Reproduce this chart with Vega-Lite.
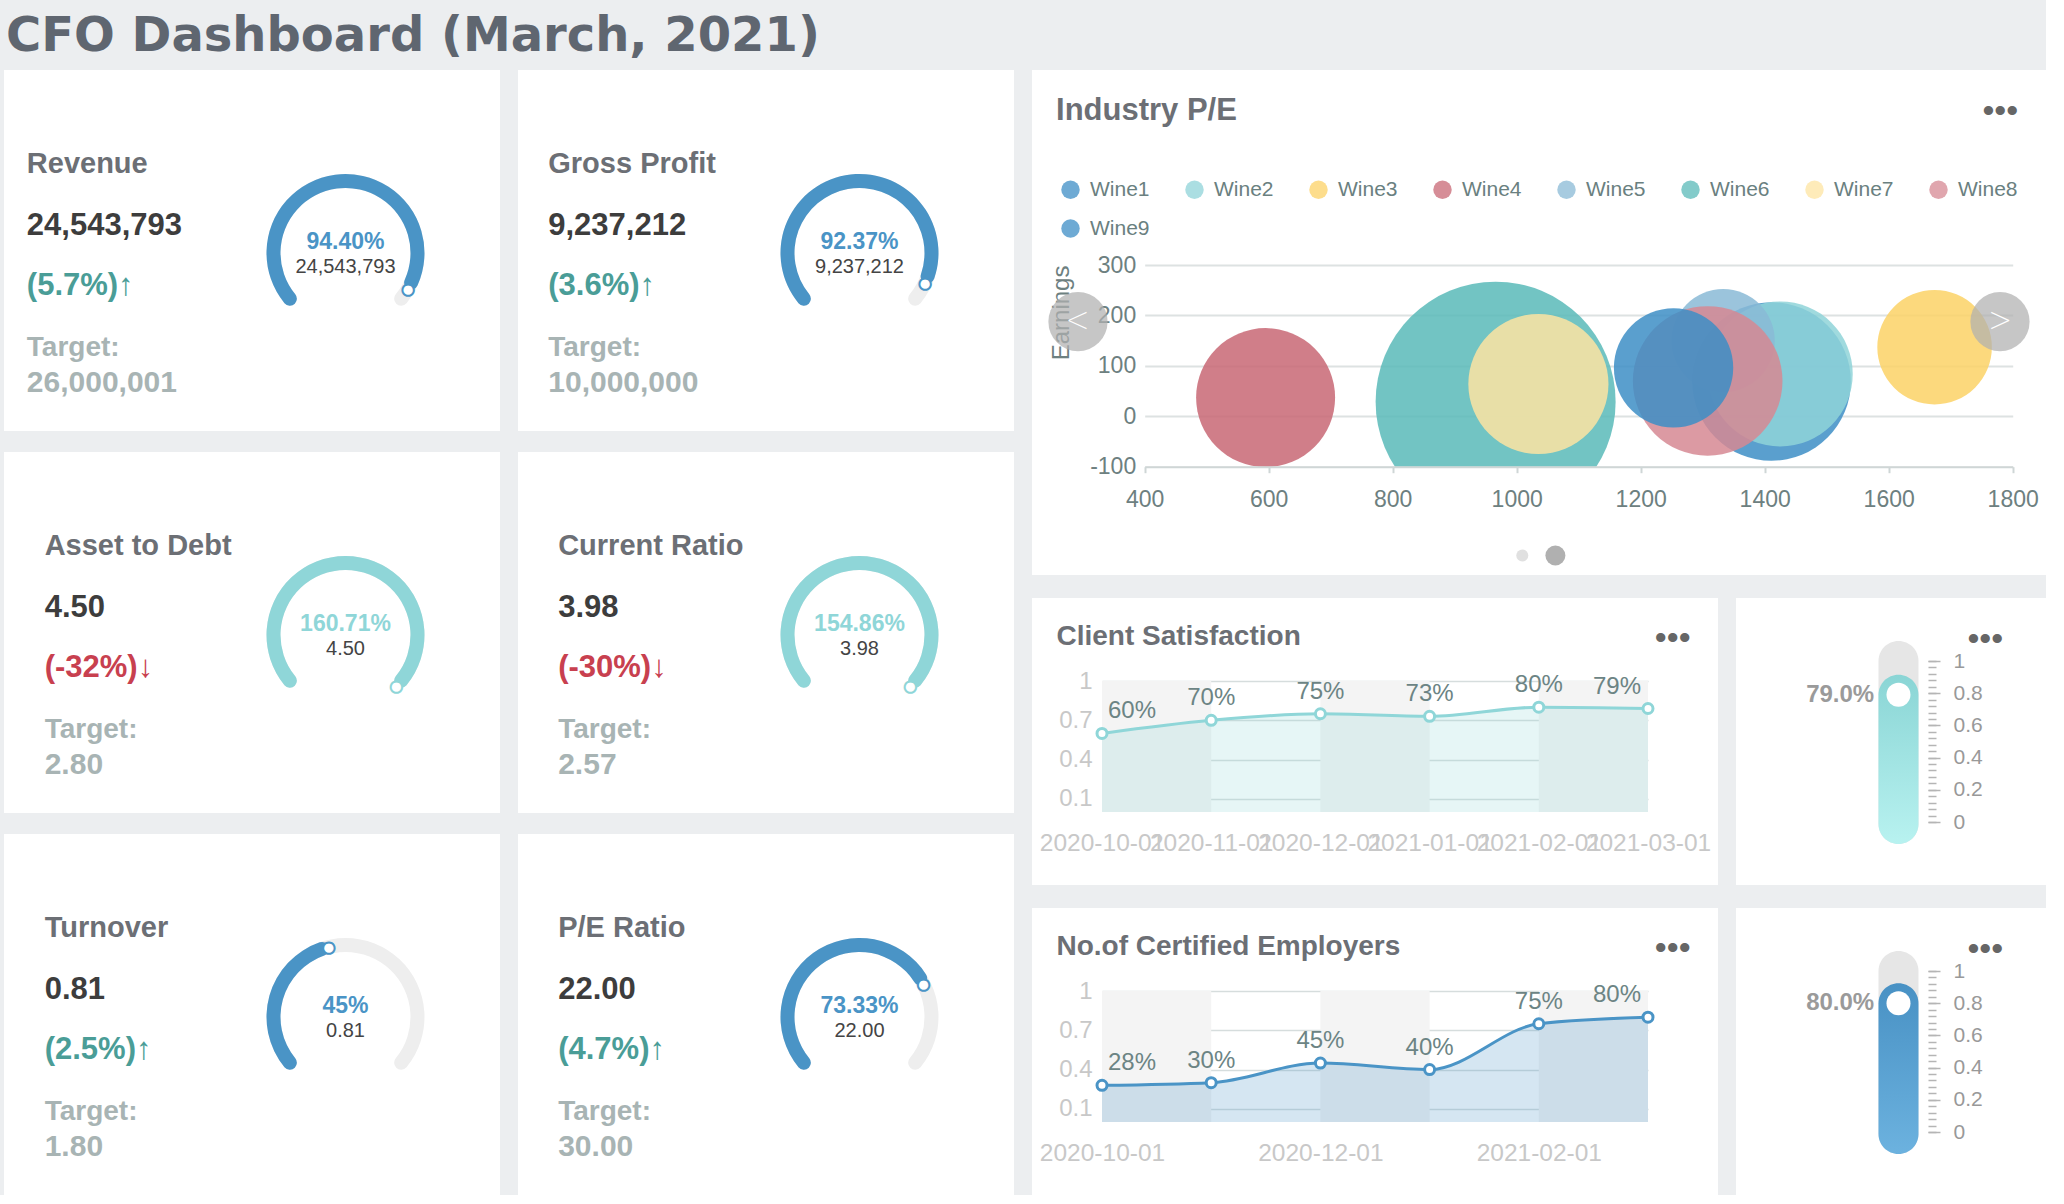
{
  "$schema": "https://vega.github.io/schema/vega-lite/v6.json",
  "background": "#eceef0",
  "padding": {"left": 4, "top": 12, "right": 0, "bottom": 0},
  "title": {"text": "CFO Dashboard (March, 2021)", "anchor": "start", "frame": "group", "font": "DejaVu Sans", "fontSize": 48, "fontWeight": "bold", "color": "#5f6670", "offset": 9.5, "dx": 2},
  "config": {"font": "Liberation Sans", "view": {"fill": "white", "stroke": null}},
  "datasets": {
    "kpi": [
      {"name": "Revenue", "value": "24,543,793", "change": "(5.7%)↑", "target": "26,000,001", "pct": 0.944, "pctText": "94.40%"},
      {"name": "Gross Profit", "value": "9,237,212", "change": "(3.6%)↑", "target": "10,000,000", "pct": 0.9237, "pctText": "92.37%"},
      {"name": "Asset to Debt", "value": "4.50", "change": "(-32%)↓", "target": "2.80", "pct": 1.6071, "pctText": "160.71%"},
      {"name": "Current Ratio", "value": "3.98", "change": "(-30%)↓", "target": "2.57", "pct": 1.5486, "pctText": "154.86%"},
      {"name": "Turnover", "value": "0.81", "change": "(2.5%)↑", "target": "1.80", "pct": 0.45, "pctText": "45%"},
      {"name": "P/E Ratio", "value": "22.00", "change": "(4.7%)↑", "target": "30.00", "pct": 0.7333, "pctText": "73.33%"}
    ],
    "wines": [
      {"wine": "Wine1", "pe": 1411, "earnings": 69, "vol": 629},
      {"wine": "Wine2", "pe": 1425, "earnings": 84, "vol": 526},
      {"wine": "Wine3", "pe": 1674, "earnings": 137, "vol": 328},
      {"wine": "Wine4", "pe": 595, "earnings": 37, "vol": 483},
      {"wine": "Wine5", "pe": 1333, "earnings": 150, "vol": 266},
      {"wine": "Wine6", "pe": 966, "earnings": 29, "vol": 1440},
      {"wine": "Wine7", "pe": 1035, "earnings": 64, "vol": 491},
      {"wine": "Wine8", "pe": 1308, "earnings": 70, "vol": 560},
      {"wine": "Wine9", "pe": 1253, "earnings": 96, "vol": 356}
    ],
    "sat": [
      {"date": "2020-10-01", "next": "2020-11-01", "v": 0.60},
      {"date": "2020-11-01", "next": "2020-12-01", "v": 0.70},
      {"date": "2020-12-01", "next": "2021-01-01", "v": 0.75},
      {"date": "2021-01-01", "next": "2021-02-01", "v": 0.73},
      {"date": "2021-02-01", "next": "2021-03-01", "v": 0.80},
      {"date": "2021-03-01", "next": null, "v": 0.79}
    ],
    "cert": [
      {"date": "2020-10-01", "next": "2020-11-01", "v": 0.28},
      {"date": "2020-11-01", "next": "2020-12-01", "v": 0.30},
      {"date": "2020-12-01", "next": "2021-01-01", "v": 0.45},
      {"date": "2021-01-01", "next": "2021-02-01", "v": 0.40},
      {"date": "2021-02-01", "next": "2021-03-01", "v": 0.75},
      {"date": "2021-03-01", "next": null, "v": 0.80}
    ]
  },
  "spacing": 18,
  "hconcat": [
    {
      "data": {"name": "kpi"},
      "spacing": 21,
      "vconcat": [
        {"spacing": 18, "hconcat": [
          {"width": 496, "height": 361, "transform": [{"filter": {"field": "name", "equal": "Revenue"}}], "layer": [
            {"mark": {"type": "arc", "outerRadius": 79, "innerRadius": 65, "cornerRadius": 7, "color": "#eeeeee"}, "encoding": {"x": {"datum": 68.85, "type": "quantitative", "scale": {"domain": [0, 100]}, "axis": null}, "y": {"datum": 50.69, "type": "quantitative", "scale": {"domain": [0, 100], "reverse": true}, "axis": null}, "theta": {"datum": 0, "type": "quantitative", "scale": {"domain": [0, 1], "range": [-2.356, 2.356], "clamp": true}}, "theta2": {"datum": 1}}},
            {"mark": {"type": "arc", "outerRadius": 79, "innerRadius": 65, "cornerRadius": 7}, "encoding": {"x": {"datum": 68.85, "type": "quantitative"}, "y": {"datum": 50.69, "type": "quantitative"}, "theta": {"field": "pct", "type": "quantitative", "stack": null}, "theta2": {"datum": 0}, "color": {"condition": {"test": "datum.pct > 1", "value": "#8fd6d8"}, "value": "#4a94c6"}}},
            {"mark": {"type": "text", "text": "●", "radius": 72, "fontSize": 15, "font": "DejaVu Sans", "align": "center", "baseline": "middle", "fill": "white", "strokeWidth": 2}, "encoding": {"x": {"datum": 68.85, "type": "quantitative"}, "y": {"datum": 50.69, "type": "quantitative"}, "theta": {"field": "pct", "type": "quantitative", "stack": null}, "stroke": {"condition": {"test": "datum.pct > 1", "value": "#8fd6d8"}, "value": "#4a94c6"}}},
            {"mark": {"type": "text", "align": "center", "baseline": "alphabetic", "fontSize": 23, "fontWeight": "bold"}, "encoding": {"x": {"datum": 68.85, "type": "quantitative"}, "y": {"datum": 49.6, "type": "quantitative"}, "text": {"field": "pctText"}, "color": {"condition": {"test": "datum.pct > 1", "value": "#8fd6d8"}, "value": "#4a94c6"}}},
            {"mark": {"type": "text", "align": "center", "baseline": "alphabetic", "fontSize": 20, "color": "#444444"}, "encoding": {"x": {"datum": 68.85, "type": "quantitative"}, "y": {"datum": 56.2, "type": "quantitative"}, "text": {"field": "value"}}},
            {"mark": {"type": "text", "align": "left", "baseline": "alphabetic", "fontSize": 29, "fontWeight": "bold", "color": "#6c6f75"}, "encoding": {"x": {"datum": 4.6, "type": "quantitative"}, "y": {"datum": 28.53, "type": "quantitative"}, "text": {"field": "name"}}},
            {"mark": {"type": "text", "align": "left", "baseline": "alphabetic", "fontSize": 31, "fontWeight": "bold", "color": "#3d3d3d"}, "encoding": {"x": {"datum": 4.6, "type": "quantitative"}, "y": {"datum": 45.7, "type": "quantitative"}, "text": {"field": "value"}}},
            {"mark": {"type": "text", "align": "left", "baseline": "alphabetic", "fontSize": 31, "fontWeight": "bold"}, "encoding": {"x": {"datum": 4.6, "type": "quantitative"}, "y": {"datum": 62.3, "type": "quantitative"}, "text": {"field": "change"}, "color": {"condition": {"test": "indexof(datum.change, '-') >= 0", "value": "#c8404f"}, "value": "#4a9d97"}}},
            {"mark": {"type": "text", "text": "Target:", "align": "left", "baseline": "alphabetic", "fontSize": 28, "fontWeight": "bold", "color": "#a8b4b4"}, "encoding": {"x": {"datum": 4.6, "type": "quantitative"}, "y": {"datum": 79.2, "type": "quantitative"}}},
            {"mark": {"type": "text", "align": "left", "baseline": "alphabetic", "fontSize": 30, "fontWeight": "bold", "color": "#a8b4b4"}, "encoding": {"x": {"datum": 4.6, "type": "quantitative"}, "y": {"datum": 89.2, "type": "quantitative"}, "text": {"field": "target"}}}
          ]},
          {"width": 496, "height": 361, "transform": [{"filter": {"field": "name", "equal": "Gross Profit"}}], "layer": [
            {"mark": {"type": "arc", "outerRadius": 79, "innerRadius": 65, "cornerRadius": 7, "color": "#eeeeee"}, "encoding": {"x": {"datum": 68.85, "type": "quantitative", "scale": {"domain": [0, 100]}, "axis": null}, "y": {"datum": 50.69, "type": "quantitative", "scale": {"domain": [0, 100], "reverse": true}, "axis": null}, "theta": {"datum": 0, "type": "quantitative", "scale": {"domain": [0, 1], "range": [-2.356, 2.356], "clamp": true}}, "theta2": {"datum": 1}}},
            {"mark": {"type": "arc", "outerRadius": 79, "innerRadius": 65, "cornerRadius": 7}, "encoding": {"x": {"datum": 68.85, "type": "quantitative"}, "y": {"datum": 50.69, "type": "quantitative"}, "theta": {"field": "pct", "type": "quantitative", "stack": null}, "theta2": {"datum": 0}, "color": {"condition": {"test": "datum.pct > 1", "value": "#8fd6d8"}, "value": "#4a94c6"}}},
            {"mark": {"type": "text", "text": "●", "radius": 72, "fontSize": 15, "font": "DejaVu Sans", "align": "center", "baseline": "middle", "fill": "white", "strokeWidth": 2}, "encoding": {"x": {"datum": 68.85, "type": "quantitative"}, "y": {"datum": 50.69, "type": "quantitative"}, "theta": {"field": "pct", "type": "quantitative", "stack": null}, "stroke": {"condition": {"test": "datum.pct > 1", "value": "#8fd6d8"}, "value": "#4a94c6"}}},
            {"mark": {"type": "text", "align": "center", "baseline": "alphabetic", "fontSize": 23, "fontWeight": "bold"}, "encoding": {"x": {"datum": 68.85, "type": "quantitative"}, "y": {"datum": 49.6, "type": "quantitative"}, "text": {"field": "pctText"}, "color": {"condition": {"test": "datum.pct > 1", "value": "#8fd6d8"}, "value": "#4a94c6"}}},
            {"mark": {"type": "text", "align": "center", "baseline": "alphabetic", "fontSize": 20, "color": "#444444"}, "encoding": {"x": {"datum": 68.85, "type": "quantitative"}, "y": {"datum": 56.2, "type": "quantitative"}, "text": {"field": "value"}}},
            {"mark": {"type": "text", "align": "left", "baseline": "alphabetic", "fontSize": 29, "fontWeight": "bold", "color": "#6c6f75"}, "encoding": {"x": {"datum": 6.1, "type": "quantitative"}, "y": {"datum": 28.53, "type": "quantitative"}, "text": {"field": "name"}}},
            {"mark": {"type": "text", "align": "left", "baseline": "alphabetic", "fontSize": 31, "fontWeight": "bold", "color": "#3d3d3d"}, "encoding": {"x": {"datum": 6.1, "type": "quantitative"}, "y": {"datum": 45.7, "type": "quantitative"}, "text": {"field": "value"}}},
            {"mark": {"type": "text", "align": "left", "baseline": "alphabetic", "fontSize": 31, "fontWeight": "bold"}, "encoding": {"x": {"datum": 6.1, "type": "quantitative"}, "y": {"datum": 62.3, "type": "quantitative"}, "text": {"field": "change"}, "color": {"condition": {"test": "indexof(datum.change, '-') >= 0", "value": "#c8404f"}, "value": "#4a9d97"}}},
            {"mark": {"type": "text", "text": "Target:", "align": "left", "baseline": "alphabetic", "fontSize": 28, "fontWeight": "bold", "color": "#a8b4b4"}, "encoding": {"x": {"datum": 6.1, "type": "quantitative"}, "y": {"datum": 79.2, "type": "quantitative"}}},
            {"mark": {"type": "text", "align": "left", "baseline": "alphabetic", "fontSize": 30, "fontWeight": "bold", "color": "#a8b4b4"}, "encoding": {"x": {"datum": 6.1, "type": "quantitative"}, "y": {"datum": 89.2, "type": "quantitative"}, "text": {"field": "target"}}}
          ]}
        ]},
        {"spacing": 18, "hconcat": [
          {"width": 496, "height": 361, "transform": [{"filter": {"field": "name", "equal": "Asset to Debt"}}], "layer": [
            {"mark": {"type": "arc", "outerRadius": 79, "innerRadius": 65, "cornerRadius": 7, "color": "#eeeeee"}, "encoding": {"x": {"datum": 68.85, "type": "quantitative", "scale": {"domain": [0, 100]}, "axis": null}, "y": {"datum": 50.69, "type": "quantitative", "scale": {"domain": [0, 100], "reverse": true}, "axis": null}, "theta": {"datum": 0, "type": "quantitative", "scale": {"domain": [0, 1], "range": [-2.356, 2.356], "clamp": true}}, "theta2": {"datum": 1}}},
            {"mark": {"type": "arc", "outerRadius": 79, "innerRadius": 65, "cornerRadius": 7}, "encoding": {"x": {"datum": 68.85, "type": "quantitative"}, "y": {"datum": 50.69, "type": "quantitative"}, "theta": {"field": "pct", "type": "quantitative", "stack": null}, "theta2": {"datum": 0}, "color": {"condition": {"test": "datum.pct > 1", "value": "#8fd6d8"}, "value": "#4a94c6"}}},
            {"mark": {"type": "text", "text": "●", "radius": 72, "fontSize": 15, "font": "DejaVu Sans", "align": "center", "baseline": "middle", "fill": "white", "strokeWidth": 2}, "encoding": {"x": {"datum": 68.85, "type": "quantitative"}, "y": {"datum": 50.69, "type": "quantitative"}, "theta": {"field": "pct", "type": "quantitative", "stack": null}, "stroke": {"condition": {"test": "datum.pct > 1", "value": "#8fd6d8"}, "value": "#4a94c6"}}},
            {"mark": {"type": "text", "align": "center", "baseline": "alphabetic", "fontSize": 23, "fontWeight": "bold"}, "encoding": {"x": {"datum": 68.85, "type": "quantitative"}, "y": {"datum": 49.6, "type": "quantitative"}, "text": {"field": "pctText"}, "color": {"condition": {"test": "datum.pct > 1", "value": "#8fd6d8"}, "value": "#4a94c6"}}},
            {"mark": {"type": "text", "align": "center", "baseline": "alphabetic", "fontSize": 20, "color": "#444444"}, "encoding": {"x": {"datum": 68.85, "type": "quantitative"}, "y": {"datum": 56.2, "type": "quantitative"}, "text": {"field": "value"}}},
            {"mark": {"type": "text", "align": "left", "baseline": "alphabetic", "fontSize": 29, "fontWeight": "bold", "color": "#6c6f75"}, "encoding": {"x": {"datum": 8.2, "type": "quantitative"}, "y": {"datum": 28.53, "type": "quantitative"}, "text": {"field": "name"}}},
            {"mark": {"type": "text", "align": "left", "baseline": "alphabetic", "fontSize": 31, "fontWeight": "bold", "color": "#3d3d3d"}, "encoding": {"x": {"datum": 8.2, "type": "quantitative"}, "y": {"datum": 45.7, "type": "quantitative"}, "text": {"field": "value"}}},
            {"mark": {"type": "text", "align": "left", "baseline": "alphabetic", "fontSize": 31, "fontWeight": "bold"}, "encoding": {"x": {"datum": 8.2, "type": "quantitative"}, "y": {"datum": 62.3, "type": "quantitative"}, "text": {"field": "change"}, "color": {"condition": {"test": "indexof(datum.change, '-') >= 0", "value": "#c8404f"}, "value": "#4a9d97"}}},
            {"mark": {"type": "text", "text": "Target:", "align": "left", "baseline": "alphabetic", "fontSize": 28, "fontWeight": "bold", "color": "#a8b4b4"}, "encoding": {"x": {"datum": 8.2, "type": "quantitative"}, "y": {"datum": 79.2, "type": "quantitative"}}},
            {"mark": {"type": "text", "align": "left", "baseline": "alphabetic", "fontSize": 30, "fontWeight": "bold", "color": "#a8b4b4"}, "encoding": {"x": {"datum": 8.2, "type": "quantitative"}, "y": {"datum": 89.2, "type": "quantitative"}, "text": {"field": "target"}}}
          ]},
          {"width": 496, "height": 361, "transform": [{"filter": {"field": "name", "equal": "Current Ratio"}}], "layer": [
            {"mark": {"type": "arc", "outerRadius": 79, "innerRadius": 65, "cornerRadius": 7, "color": "#eeeeee"}, "encoding": {"x": {"datum": 68.85, "type": "quantitative", "scale": {"domain": [0, 100]}, "axis": null}, "y": {"datum": 50.69, "type": "quantitative", "scale": {"domain": [0, 100], "reverse": true}, "axis": null}, "theta": {"datum": 0, "type": "quantitative", "scale": {"domain": [0, 1], "range": [-2.356, 2.356], "clamp": true}}, "theta2": {"datum": 1}}},
            {"mark": {"type": "arc", "outerRadius": 79, "innerRadius": 65, "cornerRadius": 7}, "encoding": {"x": {"datum": 68.85, "type": "quantitative"}, "y": {"datum": 50.69, "type": "quantitative"}, "theta": {"field": "pct", "type": "quantitative", "stack": null}, "theta2": {"datum": 0}, "color": {"condition": {"test": "datum.pct > 1", "value": "#8fd6d8"}, "value": "#4a94c6"}}},
            {"mark": {"type": "text", "text": "●", "radius": 72, "fontSize": 15, "font": "DejaVu Sans", "align": "center", "baseline": "middle", "fill": "white", "strokeWidth": 2}, "encoding": {"x": {"datum": 68.85, "type": "quantitative"}, "y": {"datum": 50.69, "type": "quantitative"}, "theta": {"field": "pct", "type": "quantitative", "stack": null}, "stroke": {"condition": {"test": "datum.pct > 1", "value": "#8fd6d8"}, "value": "#4a94c6"}}},
            {"mark": {"type": "text", "align": "center", "baseline": "alphabetic", "fontSize": 23, "fontWeight": "bold"}, "encoding": {"x": {"datum": 68.85, "type": "quantitative"}, "y": {"datum": 49.6, "type": "quantitative"}, "text": {"field": "pctText"}, "color": {"condition": {"test": "datum.pct > 1", "value": "#8fd6d8"}, "value": "#4a94c6"}}},
            {"mark": {"type": "text", "align": "center", "baseline": "alphabetic", "fontSize": 20, "color": "#444444"}, "encoding": {"x": {"datum": 68.85, "type": "quantitative"}, "y": {"datum": 56.2, "type": "quantitative"}, "text": {"field": "value"}}},
            {"mark": {"type": "text", "align": "left", "baseline": "alphabetic", "fontSize": 29, "fontWeight": "bold", "color": "#6c6f75"}, "encoding": {"x": {"datum": 8.1, "type": "quantitative"}, "y": {"datum": 28.53, "type": "quantitative"}, "text": {"field": "name"}}},
            {"mark": {"type": "text", "align": "left", "baseline": "alphabetic", "fontSize": 31, "fontWeight": "bold", "color": "#3d3d3d"}, "encoding": {"x": {"datum": 8.1, "type": "quantitative"}, "y": {"datum": 45.7, "type": "quantitative"}, "text": {"field": "value"}}},
            {"mark": {"type": "text", "align": "left", "baseline": "alphabetic", "fontSize": 31, "fontWeight": "bold"}, "encoding": {"x": {"datum": 8.1, "type": "quantitative"}, "y": {"datum": 62.3, "type": "quantitative"}, "text": {"field": "change"}, "color": {"condition": {"test": "indexof(datum.change, '-') >= 0", "value": "#c8404f"}, "value": "#4a9d97"}}},
            {"mark": {"type": "text", "text": "Target:", "align": "left", "baseline": "alphabetic", "fontSize": 28, "fontWeight": "bold", "color": "#a8b4b4"}, "encoding": {"x": {"datum": 8.1, "type": "quantitative"}, "y": {"datum": 79.2, "type": "quantitative"}}},
            {"mark": {"type": "text", "align": "left", "baseline": "alphabetic", "fontSize": 30, "fontWeight": "bold", "color": "#a8b4b4"}, "encoding": {"x": {"datum": 8.1, "type": "quantitative"}, "y": {"datum": 89.2, "type": "quantitative"}, "text": {"field": "target"}}}
          ]}
        ]},
        {"spacing": 18, "hconcat": [
          {"width": 496, "height": 361, "transform": [{"filter": {"field": "name", "equal": "Turnover"}}], "layer": [
            {"mark": {"type": "arc", "outerRadius": 79, "innerRadius": 65, "cornerRadius": 7, "color": "#eeeeee"}, "encoding": {"x": {"datum": 68.85, "type": "quantitative", "scale": {"domain": [0, 100]}, "axis": null}, "y": {"datum": 50.69, "type": "quantitative", "scale": {"domain": [0, 100], "reverse": true}, "axis": null}, "theta": {"datum": 0, "type": "quantitative", "scale": {"domain": [0, 1], "range": [-2.356, 2.356], "clamp": true}}, "theta2": {"datum": 1}}},
            {"mark": {"type": "arc", "outerRadius": 79, "innerRadius": 65, "cornerRadius": 7}, "encoding": {"x": {"datum": 68.85, "type": "quantitative"}, "y": {"datum": 50.69, "type": "quantitative"}, "theta": {"field": "pct", "type": "quantitative", "stack": null}, "theta2": {"datum": 0}, "color": {"condition": {"test": "datum.pct > 1", "value": "#8fd6d8"}, "value": "#4a94c6"}}},
            {"mark": {"type": "text", "text": "●", "radius": 72, "fontSize": 15, "font": "DejaVu Sans", "align": "center", "baseline": "middle", "fill": "white", "strokeWidth": 2}, "encoding": {"x": {"datum": 68.85, "type": "quantitative"}, "y": {"datum": 50.69, "type": "quantitative"}, "theta": {"field": "pct", "type": "quantitative", "stack": null}, "stroke": {"condition": {"test": "datum.pct > 1", "value": "#8fd6d8"}, "value": "#4a94c6"}}},
            {"mark": {"type": "text", "align": "center", "baseline": "alphabetic", "fontSize": 23, "fontWeight": "bold"}, "encoding": {"x": {"datum": 68.85, "type": "quantitative"}, "y": {"datum": 49.6, "type": "quantitative"}, "text": {"field": "pctText"}, "color": {"condition": {"test": "datum.pct > 1", "value": "#8fd6d8"}, "value": "#4a94c6"}}},
            {"mark": {"type": "text", "align": "center", "baseline": "alphabetic", "fontSize": 20, "color": "#444444"}, "encoding": {"x": {"datum": 68.85, "type": "quantitative"}, "y": {"datum": 56.2, "type": "quantitative"}, "text": {"field": "value"}}},
            {"mark": {"type": "text", "align": "left", "baseline": "alphabetic", "fontSize": 29, "fontWeight": "bold", "color": "#6c6f75"}, "encoding": {"x": {"datum": 8.2, "type": "quantitative"}, "y": {"datum": 28.53, "type": "quantitative"}, "text": {"field": "name"}}},
            {"mark": {"type": "text", "align": "left", "baseline": "alphabetic", "fontSize": 31, "fontWeight": "bold", "color": "#3d3d3d"}, "encoding": {"x": {"datum": 8.2, "type": "quantitative"}, "y": {"datum": 45.7, "type": "quantitative"}, "text": {"field": "value"}}},
            {"mark": {"type": "text", "align": "left", "baseline": "alphabetic", "fontSize": 31, "fontWeight": "bold"}, "encoding": {"x": {"datum": 8.2, "type": "quantitative"}, "y": {"datum": 62.3, "type": "quantitative"}, "text": {"field": "change"}, "color": {"condition": {"test": "indexof(datum.change, '-') >= 0", "value": "#c8404f"}, "value": "#4a9d97"}}},
            {"mark": {"type": "text", "text": "Target:", "align": "left", "baseline": "alphabetic", "fontSize": 28, "fontWeight": "bold", "color": "#a8b4b4"}, "encoding": {"x": {"datum": 8.2, "type": "quantitative"}, "y": {"datum": 79.2, "type": "quantitative"}}},
            {"mark": {"type": "text", "align": "left", "baseline": "alphabetic", "fontSize": 30, "fontWeight": "bold", "color": "#a8b4b4"}, "encoding": {"x": {"datum": 8.2, "type": "quantitative"}, "y": {"datum": 89.2, "type": "quantitative"}, "text": {"field": "target"}}}
          ]},
          {"width": 496, "height": 361, "transform": [{"filter": {"field": "name", "equal": "P/E Ratio"}}], "layer": [
            {"mark": {"type": "arc", "outerRadius": 79, "innerRadius": 65, "cornerRadius": 7, "color": "#eeeeee"}, "encoding": {"x": {"datum": 68.85, "type": "quantitative", "scale": {"domain": [0, 100]}, "axis": null}, "y": {"datum": 50.69, "type": "quantitative", "scale": {"domain": [0, 100], "reverse": true}, "axis": null}, "theta": {"datum": 0, "type": "quantitative", "scale": {"domain": [0, 1], "range": [-2.356, 2.356], "clamp": true}}, "theta2": {"datum": 1}}},
            {"mark": {"type": "arc", "outerRadius": 79, "innerRadius": 65, "cornerRadius": 7}, "encoding": {"x": {"datum": 68.85, "type": "quantitative"}, "y": {"datum": 50.69, "type": "quantitative"}, "theta": {"field": "pct", "type": "quantitative", "stack": null}, "theta2": {"datum": 0}, "color": {"condition": {"test": "datum.pct > 1", "value": "#8fd6d8"}, "value": "#4a94c6"}}},
            {"mark": {"type": "text", "text": "●", "radius": 72, "fontSize": 15, "font": "DejaVu Sans", "align": "center", "baseline": "middle", "fill": "white", "strokeWidth": 2}, "encoding": {"x": {"datum": 68.85, "type": "quantitative"}, "y": {"datum": 50.69, "type": "quantitative"}, "theta": {"field": "pct", "type": "quantitative", "stack": null}, "stroke": {"condition": {"test": "datum.pct > 1", "value": "#8fd6d8"}, "value": "#4a94c6"}}},
            {"mark": {"type": "text", "align": "center", "baseline": "alphabetic", "fontSize": 23, "fontWeight": "bold"}, "encoding": {"x": {"datum": 68.85, "type": "quantitative"}, "y": {"datum": 49.6, "type": "quantitative"}, "text": {"field": "pctText"}, "color": {"condition": {"test": "datum.pct > 1", "value": "#8fd6d8"}, "value": "#4a94c6"}}},
            {"mark": {"type": "text", "align": "center", "baseline": "alphabetic", "fontSize": 20, "color": "#444444"}, "encoding": {"x": {"datum": 68.85, "type": "quantitative"}, "y": {"datum": 56.2, "type": "quantitative"}, "text": {"field": "value"}}},
            {"mark": {"type": "text", "align": "left", "baseline": "alphabetic", "fontSize": 29, "fontWeight": "bold", "color": "#6c6f75"}, "encoding": {"x": {"datum": 8.1, "type": "quantitative"}, "y": {"datum": 28.53, "type": "quantitative"}, "text": {"field": "name"}}},
            {"mark": {"type": "text", "align": "left", "baseline": "alphabetic", "fontSize": 31, "fontWeight": "bold", "color": "#3d3d3d"}, "encoding": {"x": {"datum": 8.1, "type": "quantitative"}, "y": {"datum": 45.7, "type": "quantitative"}, "text": {"field": "value"}}},
            {"mark": {"type": "text", "align": "left", "baseline": "alphabetic", "fontSize": 31, "fontWeight": "bold"}, "encoding": {"x": {"datum": 8.1, "type": "quantitative"}, "y": {"datum": 62.3, "type": "quantitative"}, "text": {"field": "change"}, "color": {"condition": {"test": "indexof(datum.change, '-') >= 0", "value": "#c8404f"}, "value": "#4a9d97"}}},
            {"mark": {"type": "text", "text": "Target:", "align": "left", "baseline": "alphabetic", "fontSize": 28, "fontWeight": "bold", "color": "#a8b4b4"}, "encoding": {"x": {"datum": 8.1, "type": "quantitative"}, "y": {"datum": 79.2, "type": "quantitative"}}},
            {"mark": {"type": "text", "align": "left", "baseline": "alphabetic", "fontSize": 30, "fontWeight": "bold", "color": "#a8b4b4"}, "encoding": {"x": {"datum": 8.1, "type": "quantitative"}, "y": {"datum": 89.2, "type": "quantitative"}, "text": {"field": "target"}}}
          ]}
        ]}
      ]
    },
    {
      "spacing": 23,
      "vconcat": [
        {
          "width": 1014,
          "height": 505,
          "layer": [
            {
              "data": {"name": "wines"},
              "mark": {"type": "circle", "opacity": 0.85},
              "encoding": {
                "x": {"field": "pe", "type": "quantitative", "scale": {"domain": [400, 1800], "range": [112.7, 980.7], "zero": false, "nice": false},
                  "axis": {"orient": "bottom", "offset": -108.3, "values": [400, 600, 800, 1000, 1200, 1400, 1600, 1800], "format": "d", "grid": false, "domainColor": "#cfd6d6", "domainWidth": 2, "tickColor": "#cfd6d6", "tickWidth": 2, "tickSize": 6, "labelFontSize": 23, "labelColor": "#6d8080", "labelPadding": 16, "labelFlush": false, "title": null, "zindex": 1}},
                "y": {"field": "earnings", "type": "quantitative", "scale": {"domain": [-100, 300], "range": [396.7, 195], "zero": false, "nice": false},
                  "axis": {"orient": "left", "offset": -112.7, "values": [-100, 0, 100, 200, 300], "labelExpr": "'' + datum.value", "grid": true, "gridColor": "#dde2e2", "gridWidth": 2, "domain": false, "ticks": false, "labelFontSize": 23, "labelColor": "#6d8080", "labelPadding": 9, "title": null}},
                "size": {"field": "vol", "type": "quantitative", "scale": {"domain": [0, 1440], "range": [0, 57600]}, "legend": null},
                "color": {"field": "wine", "type": "nominal",
                  "scale": {"domain": ["Wine1", "Wine2", "Wine3", "Wine4", "Wine5", "Wine6", "Wine7", "Wine8", "Wine9"], "range": ["#3d8ec6", "#8fd3d8", "#fcd266", "#c86774", "#8abad6", "#59bab8", "#fde4a2", "#d68893", "#3d8ec6"]},
                  "legend": {"orient": "none", "legendX": 1056, "legendY": 109, "direction": "horizontal", "columns": 8, "symbolType": "circle", "symbolSize": 340, "symbolOpacity": 0.75, "symbolStrokeWidth": 0, "labelFontSize": 21, "labelColor": "#6a8080", "labelOffset": 9, "columnPadding": 34, "rowPadding": 17, "title": null}}
              }
            },
            {"data": {"values": [{}]}, "mark": {"type": "rect", "color": "white"}, "encoding": {"x": {"datum": 400, "type": "quantitative"}, "x2": {"datum": 1800}, "y": {"datum": -100, "type": "quantitative"}, "y2": {"datum": -240}}},
            {"data": {"values": [{}]}, "mark": {"type": "text", "text": "Earnings", "angle": 270, "align": "center", "baseline": "middle", "fontSize": 24, "color": "#6d8080"}, "encoding": {"x": {"datum": 266, "type": "quantitative"}, "y": {"datum": 205, "type": "quantitative"}}},
            {"data": {"values": [{}]}, "mark": {"type": "text", "text": "Industry P/E", "align": "left", "baseline": "alphabetic", "fontSize": 31, "fontWeight": "bold", "color": "#6c6f75"}, "encoding": {"x": {"datum": 257, "type": "quantitative"}, "y": {"datum": 587, "type": "quantitative"}}},
            {"data": {"values": [{}]}, "mark": {"type": "text", "text": "•••", "align": "center", "baseline": "middle", "fontSize": 34, "color": "#666666"}, "encoding": {"x": {"datum": 1780, "type": "quantitative"}, "y": {"datum": 603.6, "type": "quantitative"}}},
            {"data": {"values": [{}]}, "mark": {"type": "circle", "size": 3505, "color": "#b0b0b0", "opacity": 0.72}, "encoding": {"x": {"datum": 292.4, "type": "quantitative"}, "y": {"datum": 187.7, "type": "quantitative"}}},
            {"data": {"values": [{}]}, "mark": {"type": "circle", "size": 3505, "color": "#b0b0b0", "opacity": 0.72}, "encoding": {"x": {"datum": 1779.5, "type": "quantitative"}, "y": {"datum": 187.7, "type": "quantitative"}}},
            {"data": {"values": [{}]}, "mark": {"type": "text", "text": "<", "align": "center", "baseline": "middle", "font": "Roboto", "fontWeight": 100, "fontSize": 44, "color": "white"}, "encoding": {"x": {"datum": 292.4, "type": "quantitative"}, "y": {"datum": 187.7, "type": "quantitative"}}},
            {"data": {"values": [{}]}, "mark": {"type": "text", "text": ">", "align": "center", "baseline": "middle", "font": "Roboto", "fontWeight": 100, "fontSize": 44, "color": "white"}, "encoding": {"x": {"datum": 1779.5, "type": "quantitative"}, "y": {"datum": 187.7, "type": "quantitative"}}},
            {"data": {"values": [{}]}, "mark": {"type": "circle", "size": 144, "color": "#e0e0e0", "opacity": 1}, "encoding": {"x": {"datum": 1009, "type": "quantitative"}, "y": {"datum": -276, "type": "quantitative"}}},
            {"data": {"values": [{}]}, "mark": {"type": "circle", "size": 400, "color": "#b0b0b0", "opacity": 1}, "encoding": {"x": {"datum": 1062.4, "type": "quantitative"}, "y": {"datum": -276, "type": "quantitative"}}}
          ]
        },
        {
          "spacing": 18,
          "hconcat": [
            {
              "spacing": 0,
              "vconcat": [
                {
                  "width": 686, "height": 70, "data": {"values": [{}]},
                  "layer": [
                    {"mark": {"type": "text", "text": "Client Satisfaction", "align": "left", "baseline": "alphabetic", "fontSize": 28, "fontWeight": "bold", "color": "#6c6f75"}, "encoding": {"x": {"datum": 3.57, "type": "quantitative", "scale": {"domain": [0, 100]}, "axis": null}, "y": {"datum": 67.1, "type": "quantitative", "scale": {"domain": [0, 100], "reverse": true}, "axis": null}}},
                    {"mark": {"type": "text", "text": "•••", "align": "center", "baseline": "middle", "fontSize": 34, "color": "#666666"}, "encoding": {"x": {"datum": 93.4, "type": "quantitative"}, "y": {"datum": 59, "type": "quantitative"}}}
                  ]
                },
                {
                  "width": 686, "height": 217, "data": {"name": "sat"},
                  "encoding": {
                    "x": {"field": "date", "type": "ordinal", "scale": {"type": "point", "padding": 0, "range": [70, 616]},
                      "axis": {"orient": "bottom", "offset": -73, "labelAngle": 0, "labelFontSize": 24.5, "labelColor": "#c8c8c8", "labelPadding": 19, "labelOverlap": false, "labelBound": false, "labelFlush": false, "domain": false, "ticks": false, "tickSize": 0, "grid": false, "title": null}},
                    "y": {"field": "v", "type": "quantitative", "scale": {"domain": [0, 1], "range": [144, 13], "nice": false, "zero": false},
                      "axis": {"orient": "left", "offset": -70, "values": [0.1, 0.4, 0.7, 1], "format": "~g", "grid": true, "gridColor": "#d6dddd", "gridWidth": 1.5, "domain": false, "ticks": false, "tickSize": 0, "labelFontSize": 24, "labelColor": "#c8c8c8", "labelPadding": 10, "title": null}}
                  },
                  "layer": [
                    {"transform": [{"filter": {"field": "date", "oneOf": ["2020-10-01", "2020-12-01", "2021-02-01"]}}], "mark": {"type": "rect", "color": "#f4f4f4"}, "encoding": {"x2": {"field": "next"}, "y": {"datum": 0, "type": "quantitative"}, "y2": {"datum": 1}}},
                    {"mark": {"type": "area", "interpolate": "monotone", "color": "#8fd6d8", "opacity": 0.22}},
                    {"mark": {"type": "line", "interpolate": "monotone", "color": "#8fd6d8", "strokeWidth": 3}},
                    {"mark": {"type": "point", "filled": true, "fill": "white", "stroke": "#8fd6d8", "strokeWidth": 3, "size": 100, "opacity": 1}},
                    {"transform": [{"filter": {"field": "date", "oneOf": ["2020-11-01", "2020-12-01", "2021-01-01", "2021-02-01"]}}], "mark": {"type": "text", "align": "center", "baseline": "alphabetic", "dy": -15, "fontSize": 24, "color": "#6c8484"}, "encoding": {"text": {"field": "v", "type": "quantitative", "format": ".0%"}}},
                    {"transform": [{"filter": {"field": "date", "equal": "2020-10-01"}}], "mark": {"type": "text", "align": "left", "baseline": "alphabetic", "dx": 6, "dy": -15, "fontSize": 24, "color": "#6c8484"}, "encoding": {"text": {"field": "v", "type": "quantitative", "format": ".0%"}}},
                    {"transform": [{"filter": {"field": "date", "equal": "2021-03-01"}}], "mark": {"type": "text", "align": "right", "baseline": "alphabetic", "dx": -7, "dy": -15, "fontSize": 24, "color": "#6c8484"}, "encoding": {"text": {"field": "v", "type": "quantitative", "format": ".0%"}}}
                  ]
                }
              ]
            },
            {
              "width": 310, "height": 287, "data": {"values": [{"value": 0.79}]},
              "resolve": {"axis": {"y": "independent"}},
              "layer": [
                {"mark": {"type": "bar", "width": 40, "cornerRadius": 20, "color": "#e6e6e6", "yOffset": -20, "y2Offset": 22},
                  "encoding": {"x": {"datum": 52.9, "type": "quantitative", "scale": {"domain": [0, 100]}, "axis": null},
                    "y": {"datum": 1, "type": "quantitative", "scale": {"domain": [0, 1], "range": [224, 63], "nice": false},
                      "axis": {"orient": "right", "offset": -118, "values": [0, 0.2, 0.4, 0.6, 0.8, 1], "format": "~g", "grid": false, "domain": false, "tickSize": 12, "tickColor": "#b5b5b5", "tickWidth": 1.5, "labelFontSize": 21, "labelColor": "#999999", "labelPadding": 13, "title": null}},
                    "y2": {"datum": 0}}},
                {"mark": {"type": "bar", "width": 40, "cornerRadius": 20, "yOffset": -20, "y2Offset": 22, "color": {"gradient": "linear", "x1": 0, "y1": 0, "x2": 0, "y2": 1, "stops": [{"offset": 0, "color": "#8ad5d5"}, {"offset": 1, "color": "#b8f2f0"}]}},
                  "encoding": {"x": {"datum": 52.9, "type": "quantitative"},
                    "y": {"field": "value", "type": "quantitative", "axis": {"orient": "right", "offset": -118, "values": [0, 0.04, 0.08, 0.12, 0.16, 0.2, 0.24, 0.28, 0.32, 0.36, 0.4, 0.44, 0.48, 0.52, 0.56, 0.6, 0.64, 0.68, 0.72, 0.76, 0.8, 0.84, 0.88, 0.92, 0.96, 1], "labels": false, "grid": false, "domain": false, "tickSize": 8, "tickColor": "#b5b5b5", "tickWidth": 1.5, "title": null}},
                    "y2": {"datum": 0}}},
                {"mark": {"type": "point", "filled": true, "color": "white", "size": 576, "opacity": 1}, "encoding": {"x": {"datum": 52.9, "type": "quantitative"}, "y": {"field": "value", "type": "quantitative", "axis": null}}},
                {"mark": {"type": "text", "align": "right", "baseline": "middle", "fontSize": 24, "fontWeight": "bold", "color": "#9a9a9a"}, "encoding": {"x": {"datum": 43.5, "type": "quantitative"}, "y": {"field": "value", "type": "quantitative", "axis": null}, "text": {"field": "value", "type": "quantitative", "format": ".1%"}}},
                {"mark": {"type": "text", "text": "•••", "align": "center", "baseline": "middle", "fontSize": 34, "color": "#666666"}, "encoding": {"x": {"datum": 86.5, "type": "quantitative"}, "y": {"datum": 1.13, "type": "quantitative", "axis": null}}}
              ]
            }
          ]
        },
        {
          "spacing": 18,
          "hconcat": [
            {
              "spacing": 0,
              "vconcat": [
                {
                  "width": 686, "height": 70, "data": {"values": [{}]},
                  "layer": [
                    {"mark": {"type": "text", "text": "No.of Certified Employers", "align": "left", "baseline": "alphabetic", "fontSize": 28, "fontWeight": "bold", "color": "#6c6f75"}, "encoding": {"x": {"datum": 3.57, "type": "quantitative", "scale": {"domain": [0, 100]}, "axis": null}, "y": {"datum": 67.1, "type": "quantitative", "scale": {"domain": [0, 100], "reverse": true}, "axis": null}}},
                    {"mark": {"type": "text", "text": "•••", "align": "center", "baseline": "middle", "fontSize": 34, "color": "#666666"}, "encoding": {"x": {"datum": 93.4, "type": "quantitative"}, "y": {"datum": 59, "type": "quantitative"}}}
                  ]
                },
                {
                  "width": 686, "height": 217, "data": {"name": "cert"},
                  "encoding": {
                    "x": {"field": "date", "type": "ordinal", "scale": {"type": "point", "padding": 0, "range": [70, 616]},
                      "axis": {"orient": "bottom", "offset": -73, "values": ["2020-10-01", "2020-12-01", "2021-02-01"], "labelAngle": 0, "labelFontSize": 24.5, "labelColor": "#c8c8c8", "labelPadding": 19, "labelOverlap": false, "labelBound": false, "labelFlush": false, "domain": false, "ticks": false, "tickSize": 0, "grid": false, "title": null}},
                    "y": {"field": "v", "type": "quantitative", "scale": {"domain": [0, 1], "range": [144, 13], "nice": false, "zero": false},
                      "axis": {"orient": "left", "offset": -70, "values": [0.1, 0.4, 0.7, 1], "format": "~g", "grid": true, "gridColor": "#d6dddd", "gridWidth": 1.5, "domain": false, "ticks": false, "tickSize": 0, "labelFontSize": 24, "labelColor": "#c8c8c8", "labelPadding": 10, "title": null}}
                  },
                  "layer": [
                    {"transform": [{"filter": {"field": "date", "oneOf": ["2020-10-01", "2020-12-01", "2021-02-01"]}}], "mark": {"type": "rect", "color": "#f4f4f4"}, "encoding": {"x2": {"field": "next"}, "y": {"datum": 0, "type": "quantitative"}, "y2": {"datum": 1}}},
                    {"mark": {"type": "area", "interpolate": "monotone", "color": "#4a94c6", "opacity": 0.23}},
                    {"mark": {"type": "line", "interpolate": "monotone", "color": "#4a94c6", "strokeWidth": 3}},
                    {"mark": {"type": "point", "filled": true, "fill": "white", "stroke": "#4a94c6", "strokeWidth": 3, "size": 100, "opacity": 1}},
                    {"transform": [{"filter": {"field": "date", "oneOf": ["2020-11-01", "2020-12-01", "2021-01-01", "2021-02-01"]}}], "mark": {"type": "text", "align": "center", "baseline": "alphabetic", "dy": -15, "fontSize": 24, "color": "#6c8484"}, "encoding": {"text": {"field": "v", "type": "quantitative", "format": ".0%"}}},
                    {"transform": [{"filter": {"field": "date", "equal": "2020-10-01"}}], "mark": {"type": "text", "align": "left", "baseline": "alphabetic", "dx": 6, "dy": -15, "fontSize": 24, "color": "#6c8484"}, "encoding": {"text": {"field": "v", "type": "quantitative", "format": ".0%"}}},
                    {"transform": [{"filter": {"field": "date", "equal": "2021-03-01"}}], "mark": {"type": "text", "align": "right", "baseline": "alphabetic", "dx": -7, "dy": -15, "fontSize": 24, "color": "#6c8484"}, "encoding": {"text": {"field": "v", "type": "quantitative", "format": ".0%"}}}
                  ]
                }
              ]
            },
            {
              "width": 310, "height": 287, "data": {"values": [{"value": 0.80}]},
              "resolve": {"axis": {"y": "independent"}},
              "layer": [
                {"mark": {"type": "bar", "width": 40, "cornerRadius": 20, "color": "#e6e6e6", "yOffset": -20, "y2Offset": 22},
                  "encoding": {"x": {"datum": 52.9, "type": "quantitative", "scale": {"domain": [0, 100]}, "axis": null},
                    "y": {"datum": 1, "type": "quantitative", "scale": {"domain": [0, 1], "range": [224, 63], "nice": false},
                      "axis": {"orient": "right", "offset": -118, "values": [0, 0.2, 0.4, 0.6, 0.8, 1], "format": "~g", "grid": false, "domain": false, "tickSize": 12, "tickColor": "#b5b5b5", "tickWidth": 1.5, "labelFontSize": 21, "labelColor": "#999999", "labelPadding": 13, "title": null}},
                    "y2": {"datum": 0}}},
                {"mark": {"type": "bar", "width": 40, "cornerRadius": 20, "yOffset": -20, "y2Offset": 22, "color": {"gradient": "linear", "x1": 0, "y1": 0, "x2": 0, "y2": 1, "stops": [{"offset": 0, "color": "#4891c4"}, {"offset": 1, "color": "#6cb2df"}]}},
                  "encoding": {"x": {"datum": 52.9, "type": "quantitative"},
                    "y": {"field": "value", "type": "quantitative", "axis": {"orient": "right", "offset": -118, "values": [0, 0.04, 0.08, 0.12, 0.16, 0.2, 0.24, 0.28, 0.32, 0.36, 0.4, 0.44, 0.48, 0.52, 0.56, 0.6, 0.64, 0.68, 0.72, 0.76, 0.8, 0.84, 0.88, 0.92, 0.96, 1], "labels": false, "grid": false, "domain": false, "tickSize": 8, "tickColor": "#b5b5b5", "tickWidth": 1.5, "title": null}},
                    "y2": {"datum": 0}}},
                {"mark": {"type": "point", "filled": true, "color": "white", "size": 576, "opacity": 1}, "encoding": {"x": {"datum": 52.9, "type": "quantitative"}, "y": {"field": "value", "type": "quantitative", "axis": null}}},
                {"mark": {"type": "text", "align": "right", "baseline": "middle", "fontSize": 24, "fontWeight": "bold", "color": "#9a9a9a"}, "encoding": {"x": {"datum": 43.5, "type": "quantitative"}, "y": {"field": "value", "type": "quantitative", "axis": null}, "text": {"field": "value", "type": "quantitative", "format": ".1%"}}},
                {"mark": {"type": "text", "text": "•••", "align": "center", "baseline": "middle", "fontSize": 34, "color": "#666666"}, "encoding": {"x": {"datum": 86.5, "type": "quantitative"}, "y": {"datum": 1.13, "type": "quantitative", "axis": null}}}
              ]
            }
          ]
        }
      ]
    }
  ]
}
